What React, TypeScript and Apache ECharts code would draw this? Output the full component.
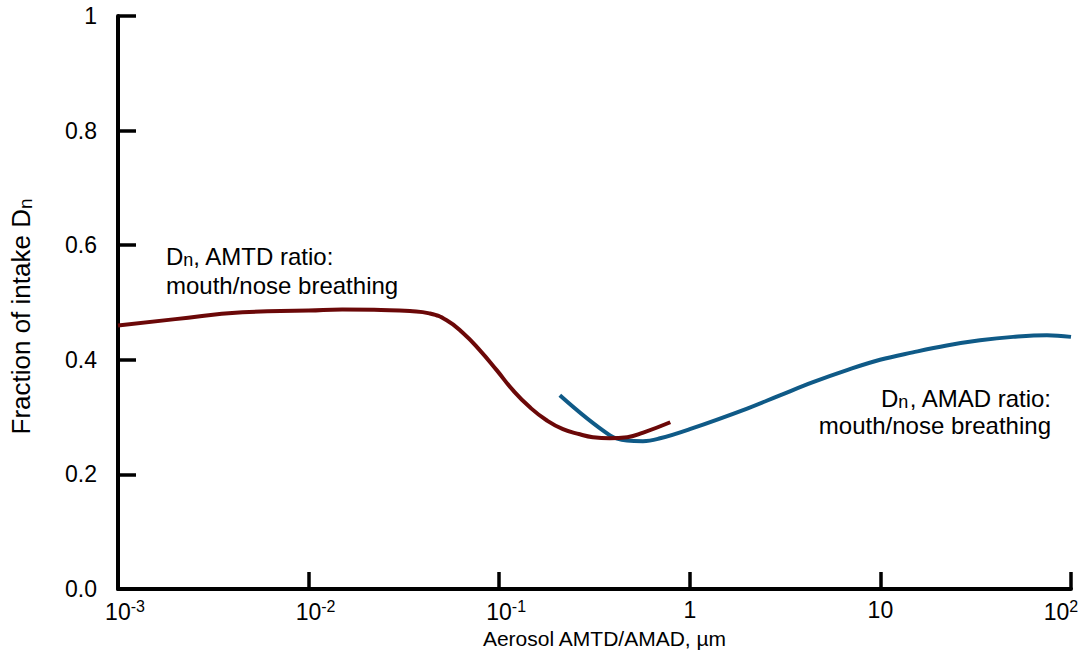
import React, { useEffect, useRef } from 'react';
import * as echarts from 'echarts';

// AMTD ratio curve (dark red), x in µm, y = fraction of intake Dn
const amtdX = [0.001, 0.002, 0.0045, 0.01, 0.015, 0.024, 0.034, 0.043, 0.053, 0.065, 0.079, 0.097, 0.118, 0.145, 0.178, 0.216, 0.265, 0.31, 0.38, 0.47, 0.57, 0.79];
const amtdY = [0.460, 0.471, 0.483, 0.486, 0.488, 0.487, 0.485, 0.481, 0.469, 0.446, 0.417, 0.382, 0.347, 0.317, 0.294, 0.279, 0.270, 0.265, 0.263, 0.265, 0.273, 0.291];

// AMAD ratio curve (blue)
const amadX = [0.208, 0.381, 0.468, 0.568, 0.698, 1.0, 2.0, 2.97, 4.43, 6.68, 9.96, 14.8, 22.3, 33.3, 49.7, 74.8, 100];
const amadY = [0.338, 0.268, 0.259, 0.258, 0.263, 0.279, 0.315, 0.338, 0.361, 0.382, 0.400, 0.413, 0.425, 0.434, 0.440, 0.443, 0.440];

const xTickValues = [0.001, 0.01, 0.1, 1, 10, 100];
const xTickLabels = ['10^-3', '10^-2', '10^-1', '1', '10', '10^2'];
const yTickValues = [0, 0.2, 0.4, 0.6, 0.8, 1];
const yTickLabels = ['0.0', '0.2', '0.4', '0.6', '0.8', '1'];

const FONT = '"Liberation Sans", Arial, Helvetica, sans-serif';
const RED = '#6b0808';
const BLUE = '#0f5a87';

function fmtX(v: number): string {
  const lv = Math.log10(v);
  for (let i = 0; i < xTickValues.length; i++) {
    if (Math.abs(lv - Math.log10(xTickValues[i])) < 1e-6) {
      const lab = xTickLabels[i];
      const last = i === xTickValues.length - 1;
      if (lab.includes('^')) {
        const [b, e] = lab.split('^');
        // spacers nudge the label so the "10" sits as in the reference
        return last ? `{b|${b}}{s|${e}}{q| }` : `{p| }{b|${b}}{s|${e}}`;
      }
      return `{b|${lab}}`;
    }
  }
  return '';
}

function fmtY(v: number): string {
  for (let i = 0; i < yTickValues.length; i++) {
    if (Math.abs(v - yTickValues[i]) < 1e-9) return yTickLabels[i];
  }
  return '';
}

export default function App() {
  const ref = useRef<HTMLDivElement>(null);
  useEffect(() => {
    if (!ref.current) return;
    const chart = echarts.init(ref.current, null, { renderer: 'svg' });
    const amtdData = amtdX.map((x, i) => [x, amtdY[i]]);
    const amadData = amadX.map((x, i) => [x, amadY[i]]);
    chart.setOption({
      animation: false,
      backgroundColor: '#fff',
      grid: { left: 118, right: 10, top: 16, bottom: 61, containLabel: false, outerBoundsMode: 'none' },
      xAxis: {
        type: 'log',
        logBase: 10,
        min: 0.001,
        max: 100,
        splitNumber: 5,
        axisLine: { lineStyle: { color: '#000', width: 4 } },
        axisTick: { inside: true, length: 17, lineStyle: { color: '#000', width: 3.5 } },
        minorTick: { show: false },
        splitLine: { show: false },
        axisLabel: {
          formatter: fmtX,
          margin: 9,
          color: '#000',
          rich: {
            b: { fontSize: 23, fontFamily: FONT, color: '#000' },
            s: { fontSize: 16, fontFamily: FONT, color: '#000', padding: [0, 0, 11, 0] },
            p: { fontSize: 10, width: 14 },
            q: { fontSize: 10, width: 20 },
          },
        },
        name: 'Aerosol AMTD/AMAD, µm',
        nameLocation: 'middle',
        nameGap: 30,
        nameTextStyle: { fontSize: 21, fontFamily: FONT, color: '#000', padding: [0, 0, 0, 20] },
      },
      yAxis: {
        type: 'value',
        min: 0,
        max: 1,
        interval: 0.2,
        axisLine: { show: true, lineStyle: { color: '#000', width: 4 } },
        axisTick: { show: true, inside: true, length: 18, lineStyle: { color: '#000', width: 3.5 } },
        splitLine: { show: false },
        axisLabel: { formatter: fmtY, margin: 21, fontSize: 23, fontFamily: FONT, color: '#000' },
        name: '{a|Fraction of intake D}{s|n}',
        nameLocation: 'middle',
        nameGap: 83,
        nameTextStyle: {
          fontSize: 26,
          fontFamily: FONT,
          color: '#000',
          padding: [0, 28, 0, 0],
          rich: {
            a: { fontSize: 26, fontFamily: FONT, color: '#000' },
            s: { fontSize: 19, fontFamily: FONT, color: '#000', padding: [9, 0, 0, 0] },
          },
        },
      },
      series: [
        {
          name: 'Dn, AMTD ratio',
          type: 'line',
          data: amtdData,
          showSymbol: false,
          symbol: 'none',
          smooth: 0.5,
          lineStyle: { color: RED, width: 4 },
          itemStyle: { color: RED },
          z: 3,
        },
        {
          name: 'Dn, AMAD ratio',
          type: 'line',
          data: amadData,
          showSymbol: false,
          symbol: 'none',
          smooth: 0.4,
          lineStyle: { color: BLUE, width: 4 },
          itemStyle: { color: BLUE },
          z: 2,
        },
      ],
      graphic: [
        {
          type: 'text',
          x: 166,
          y: 256,
          style: {
            text: '{a|D}{s|n}{a|, AMTD ratio:}',
            align: 'left',
            verticalAlign: 'middle',
            fill: '#000',
            rich: {
              a: { fontSize: 24, fontFamily: FONT, fill: '#000' },
              s: { fontSize: 18, fontFamily: FONT, fill: '#000', padding: [8, 0, 0, 0] },
            },
          },
        },
        {
          type: 'text',
          x: 166,
          y: 285,
          style: { text: 'mouth/nose breathing', fontSize: 24, fontFamily: FONT, fill: '#000', align: 'left', verticalAlign: 'middle' },
        },
        {
          type: 'text',
          x: 1051,
          y: 398,
          style: {
            text: '{a|D}{s|n}{a|, AMAD ratio:}',
            align: 'right',
            verticalAlign: 'middle',
            fill: '#000',
            rich: {
              a: { fontSize: 24, fontFamily: FONT, fill: '#000' },
              s: { fontSize: 18, fontFamily: FONT, fill: '#000', padding: [8, 0, 0, 0] },
            },
          },
        },
        {
          type: 'text',
          x: 1051,
          y: 425,
          style: { text: 'mouth/nose breathing', fontSize: 24, fontFamily: FONT, fill: '#000', align: 'right', verticalAlign: 'middle' },
        },
      ],
    });
    return () => chart.dispose();
  }, []);
  return <div ref={ref} style={{ position: 'fixed', left: 0, top: 0, width: 1081, height: 650 }} />;
}
